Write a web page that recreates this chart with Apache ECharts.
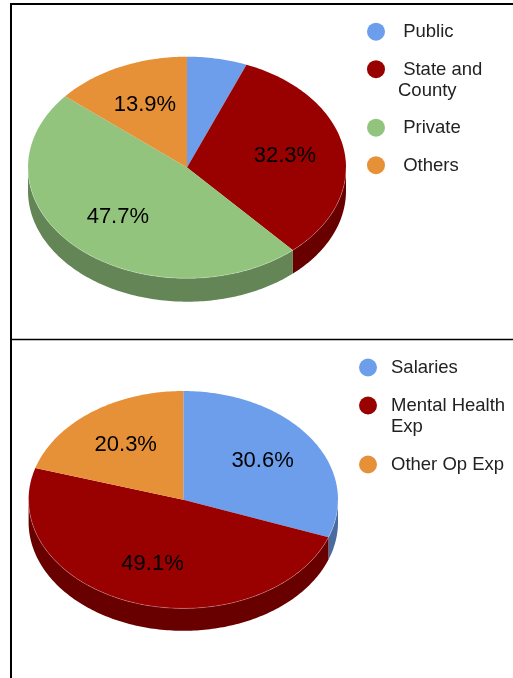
<!DOCTYPE html>
<html>
<head>
<meta charset="utf-8">
<script src="https://cdn.jsdelivr.net/npm/echarts@6/dist/echarts.min.js"></script>
<style>
  html, body { margin: 0; padding: 0; background: #fff; }
  #chart { width: 513px; height: 678px; }
</style>
</head>
<body>
<div id="chart"></div>
<script>
// data
const fundingCategories = ['Public', 'State and\nCounty', 'Private', 'Others'];
const fundingValues = [6.1, 32.3, 47.7, 13.9];
const expenseCategories = ['Salaries', 'Mental Health\nExp', 'Other Op Exp'];
const expenseValues = [30.6, 49.1, 20.3];

const fundingColors = ['#6d9eeb', '#990000', '#93c47d', '#e69138'];
const expenseColors = ['#6d9eeb', '#990000', '#e69138'];

const labelFont = '22px "Liberation Sans", Arial, sans-serif';
const legendFont = '18.5px "Liberation Sans", Arial, sans-serif';

const shade = (hex, k) => {
    const n = parseInt(hex.slice(1), 16);
    const r = Math.round(((n >> 16) & 255) * k);
    const g = Math.round(((n >> 8) & 255) * k);
    const b = Math.round((n & 255) * k);
    return 'rgb(' + r + ',' + g + ',' + b + ')';
};

// start/end angle (deg, clockwise from 12 o'clock) for every slice
const buildData = (values) => {
    const total = values.reduce((a, b) => a + b, 0);
    let acc = 0;
    return values.map((v) => {
        const s = acc / total * 360;
        acc += v;
        return [v, s, acc / total * 360, total];
    });
};

const makeRender = (geo, colors) => (params, api) => {
    const value = api.value(0), a0 = api.value(1), a1 = api.value(2), total = api.value(3);
    const idx = params.dataIndex;
    const pt = (deg, dy, f) => {
        const t = deg * Math.PI / 180;
        f = f || 1;
        return [geo.cx + geo.rx * f * Math.sin(t), geo.cy - geo.ry * f * Math.cos(t) + (dy || 0)];
    };
    const arc = (s, e, dy) => {
        const n = Math.max(2, Math.ceil(Math.abs(e - s)));
        const out = [];
        for (let i = 0; i <= n; i++) out.push(pt(s + (e - s) * i / n, dy));
        return out;
    };
    const children = [];
    children.push({
        type: 'polygon', z2: 10,
        shape: { points: [[geo.cx, geo.cy]].concat(arc(a0, a1, 0)) },
        style: { fill: colors[idx] }
    });
    // visible side wall (front half)
    const s = Math.max(a0, 90), e = Math.min(a1, 270);
    if (e > s) {
        const upper = arc(s, e, 0);
        const lower = arc(s, e, geo.depth).reverse();
        children.push({
            type: 'polygon', z2: 1,
            shape: { points: upper.concat(lower) },
            style: { fill: shade(colors[idx], 0.68) }
        });
        children.push({
            type: 'polyline', z2: 11,
            shape: { points: upper },
            style: { stroke: 'rgba(255,255,255,0.3)', lineWidth: 0.8, fill: null }
        });
    }
    const pct = value / total * 100;
    if (pct >= 10) {
        const p = pt((a0 + a1) / 2, 0, 0.625);
        children.push({
            type: 'text', z2: 20,
            style: {
                text: pct.toFixed(1) + '%', x: p[0], y: p[1],
                font: labelFont, fill: '#000', align: 'center', verticalAlign: 'middle'
            }
        });
    }
    return { type: 'group', children: children };
};

// legend built as graphic elements
const buildLegend = (names, colors, lay) => {
    const els = [];
    let y = lay.y;
    names.forEach((name, i) => {
        const lines = name.split('\n').length;
        els.push({
            type: 'circle',
            shape: { cx: lay.markerX, cy: y, r: 9 },
            style: { fill: colors[i] }
        });
        els.push({
            type: 'text',
            style: {
                text: lay.prefix + name, x: lay.textX, y: y - lay.lineHeight / 2 + 0.5,
                font: legendFont, fill: '#222', lineHeight: lay.lineHeight, verticalAlign: 'top'
            }
        });
        y += lay.step + (lines - 1) * lay.lineHeight;
    });
    return els;
};

const topGeo = { cx: 187, cy: 167.5, rx: 159, ry: 110.8, depth: 23.4 };
const bottomGeo = { cx: 183.3, cy: 499.7, rx: 154.7, ry: 108.7, depth: 22.4 };

const borders = [
    { type: 'line', shape: { x1: 10, y1: 4, x2: 513, y2: 4 }, style: { stroke: '#000', lineWidth: 2 } },
    { type: 'line', shape: { x1: 11, y1: 3, x2: 11, y2: 678 }, style: { stroke: '#000', lineWidth: 2 } },
    { type: 'line', shape: { x1: 10, y1: 339.5, x2: 513, y2: 339.5 }, style: { stroke: '#000', lineWidth: 1.5 } }
];

const option = {
    animation: false,
    graphic: borders
        .concat(buildLegend(fundingCategories, fundingColors,
            { markerX: 376, textX: 398, y: 31.7, step: 37.5, lineHeight: 21, prefix: ' ' }))
        .concat(buildLegend(expenseCategories, expenseColors,
            { markerX: 368, textX: 391, y: 367.5, step: 38, lineHeight: 21, prefix: '' })),
    series: [
        {
            type: 'custom',
            coordinateSystem: 'none',
            renderItem: makeRender(topGeo, fundingColors),
            data: buildData(fundingValues)
        },
        {
            type: 'custom',
            coordinateSystem: 'none',
            renderItem: makeRender(bottomGeo, expenseColors),
            data: buildData(expenseValues)
        }
    ]
};

const chart = echarts.init(document.getElementById('chart'), null, { renderer: 'canvas' });
chart.setOption(option);
window.addEventListener('resize', () => chart.resize());
</script>
</body>
</html>
